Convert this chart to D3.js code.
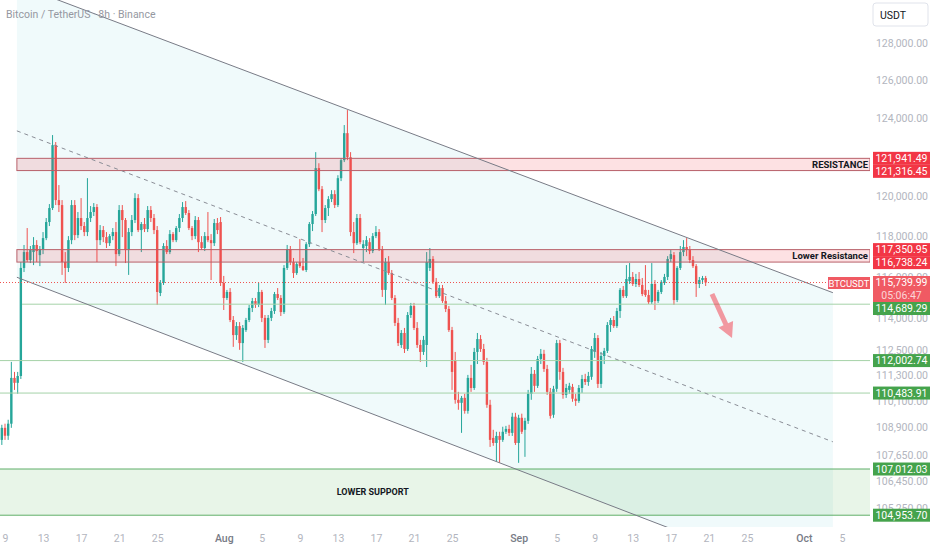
<!DOCTYPE html>
<html>
<head>
<meta charset="utf-8">
<script src="https://cdn.jsdelivr.net/npm/d3@7"></script>
<style>
  body { margin: 0; background: #fff; }
  svg { display: block; font-family: Roboto, "Noto Sans", sans-serif; }
</style>
</head>
<body>
<div id="chart"></div>
<script>
// 8h BTCUSDT candles, first one opens Jul 8 16:00 UTC
var candleStart = "2025-07-08T16:00:00Z";
var candleHours = 8;
// [open, high, low, close]
var ohlc = [
  [108330,109020,108100,108880],[108880,109070,108330,108520],[108520,109250,108330,109070],[109070,111940,108880,111190],
  [111190,111470,110630,110960],[110960,111470,110450,111280],[111280,116740,111140,116450],[116450,117580,116250,117230],
  [117230,118420,116740,116840],[116840,117530,116690,117330],[117230,117970,116590,117580],[117580,117820,116740,117280],
  [117080,117530,116540,117380],[117380,118220,117130,117920],[117920,118920,117820,118720],[118720,119620,118520,119420],
  [119420,123140,119320,122620],[122620,122780,119570,119820],[119820,120580,119220,119570],[119570,119820,116110,116740],
  [116740,117230,115720,116450],[116450,118020,116250,117820],[117820,119820,117620,119570],[119570,119820,117820,118070],
  [118070,119220,117920,118920],[118920,119920,118320,118520],[118520,118720,118020,118220],[118220,120930,118020,118920],
  [118920,119520,118720,119220],[119220,119670,119020,119470],[119470,119620,116740,117820],[117820,118570,117580,118320],
  [118320,118520,117720,117970],[117970,118220,117430,117670],[117670,118120,117530,118020],[118020,118420,117820,118220],
  [118220,118720,116540,117130],[117130,119570,117030,119320],[119320,119570,117970,118820],[118820,118920,116690,117330],
  [117330,118420,116110,118220],[118220,119070,118020,118820],[118820,120170,118670,119920],[119920,120120,118220,118320],
  [118320,118720,117230,118620],[118620,118920,118220,118370],[118370,119520,118220,119320],[119320,119520,118720,118920],
  [118920,119120,118120,118320],[118320,118520,114650,115280],[115230,115860,115080,115720],[115720,117670,115620,117530],
  [117530,117820,117130,117230],[117230,118320,117130,118120],[118120,118220,117720,117820],[117820,118520,117720,118420],
  [118420,119120,118220,118920],[118920,119720,118720,119470],[119470,119770,119070,119170],[119170,119320,118320,118420],
  [118420,118520,117820,118020],[118020,119020,117870,118820],[118820,118970,117230,117720],[117720,118020,117330,117430],
  [117430,118220,117280,118020],[118020,119220,117720,117820],[117820,118120,115860,117670],[117670,118870,117530,118670],
  [118670,118920,118120,118320],[118720,118970,115570,115720],[115720,116060,114410,114990],[114990,115380,114890,115280],
  [115280,115470,113830,113930],[113930,114120,112650,113210],[113210,113830,112980,113640],[113640,113830,112510,112830],
  [112830,113690,111940,113550],[113450,114030,113360,113930],[113930,114650,113830,114510],[114510,114990,114310,114840],
  [114840,114990,114510,114650],[114650,115720,114550,115280],[115280,115380,113830,114030],[114030,114170,112600,112980],
  [112980,114170,112830,114030],[114030,114510,113880,114360],[114360,115280,114220,115180],[115180,115470,114890,114990],
  [114990,115130,114120,114310],[114310,116590,114220,116450],[116450,117580,116350,117380],[117380,117530,116590,116740],
  [116740,116940,115960,116200],[116200,116740,116110,116640],[116740,117870,116450,116540],[116540,116940,116300,116350],
  [116350,117720,116250,117620],[117620,118720,117480,118620],[118620,119270,118270,119120],[119120,122260,119020,121440],
  [121440,121690,120270,120370],[120370,120530,118220,118820],[118820,119570,118670,119420],[119420,120020,119020,119870],
  [119870,120320,119720,120120],[120120,120320,119420,119570],[119570,121080,119470,120930],[120930,121950,120780,121850],
  [121850,123660,121750,123240],[123240,124440,121850,122000],[122000,122260,118020,118220],[118220,118720,117180,117670],
  [117670,119120,117580,118920],[118920,119120,117620,117720],[117430,117820,116740,117620],[117530,118020,117230,117820],
  [117720,117920,117130,117280],[117280,118170,117180,118020],[118020,118520,117920,118220],[118220,118370,117280,117380],
  [117380,117530,115040,115380],[115380,116940,114650,116740],[116740,117030,116110,116200],[116200,116350,114890,114990],
  [114990,115130,113640,113790],[113790,114030,112690,112830],[112740,113450,112600,113310],[113310,113550,112360,112550],
  [112550,114310,112460,114170],[114170,114750,114030,114600],[114600,114750,113450,113550],[113550,113830,112600,112740],
  [112740,112980,111940,112410],[112410,113170,112270,112980],[112740,117230,111700,116740],[116450,117430,116300,116890],
  [116890,117030,115670,115770],[115770,115960,114990,115080],[115080,115620,114990,115470],[115470,115620,114750,114840],
  [114840,115080,114310,114460],[114460,114600,113360,113450],[113450,113600,110630,111470],[112030,112410,109990,110170],
  [110170,110540,109710,110030],[110030,110350,108650,110260],[110260,110450,109530,109660],[109660,111330,109530,111190],
  [111190,111800,110540,110720],[110720,112600,110630,112410],[112410,113310,111840,113020],[113020,113210,112410,112550],
  [112550,112790,111800,111940],[111940,112130,109800,109940],[109940,110170,108010,108330],[108420,108790,108060,108190],
  [108190,108700,107340,108510],[108510,108700,107290,108330],[108330,108930,108240,108700],[108700,108970,108600,108830],
  [108830,109020,108510,108650],[108650,109570,108510,109390],[109390,109570,108100,108190],[108190,109480,107290,109340],
  [109340,109530,108600,108700],[108790,109340,107560,109200],[109200,110630,109060,110450],[110450,111700,110170,111380],
  [111380,111560,110540,110820],[110820,112220,110720,112080],[112080,112550,111840,112320],[112320,112510,111470,111610],
  [111610,111800,110400,110540],[110540,110720,109300,109430],[109480,110820,109340,110680],[110680,112980,110540,112830],
  [112830,112980,111100,111470],[111470,111660,110220,110400],[110400,110910,110260,110720],[110630,110960,110450,110820],
  [110770,110910,110080,110220],[110220,110450,109890,110120],[110120,110860,110030,110720],[110720,111330,110490,111140],
  [111140,111380,110860,111000],[111000,111470,110820,111280],[111240,112690,111100,112550],[112410,113310,112130,113070],
  [113070,113210,110720,110910],[110910,112410,110720,112220],[112220,112600,111840,112460],[112460,113830,112360,113690],
  [113690,114030,113360,113930],[113930,114120,113550,113640],[113640,114510,113550,114360],[114360,115470,114030,115380],
  [115380,115570,114990,115080],[115080,116590,114990,115910],[115810,116690,115670,116010],[116010,116250,115570,115670],
  [115670,116160,115520,115910],[115910,116250,115520,115620],[115620,115960,115080,115180],[115380,116590,115040,115130],
  [115130,115380,114700,114790],[114790,116690,114700,115670],[115670,115860,114410,114840],[114840,115380,114750,115280],
  [115280,115860,115180,115770],[115720,116160,115620,116010],[116010,117030,115860,116890],[116890,117330,116740,117130],
  [117080,117230,114650,114890],[114890,116540,114790,116450],[116450,117530,116350,117230],[117230,117820,117030,117480],
  [117480,117920,117030,117330],[117330,117530,116690,116840],[116840,117030,116450,116540],[116540,116640,115040,115670],
  [115670,116010,115470,115860],[115860,116060,115670,115960],[115960,116060,115570,115739.99]
];

// 122,000 sits fully behind the resistance labels, so it is left out
var priceTicks = [128000, 126000, 124000, 120000, 118000, 116000, 114000,
  112500, 111300, 110100, 108900, 107650, 106450, 105250];
var dateTicks = ["2025-07-09", "2025-07-13", "2025-07-17", "2025-07-21", "2025-07-25",
  "2025-08-01", "2025-08-05", "2025-08-09", "2025-08-13", "2025-08-17", "2025-08-21", "2025-08-25",
  "2025-09-01", "2025-09-05", "2025-09-09", "2025-09-13", "2025-09-17", "2025-09-21", "2025-09-25",
  "2025-10-01", "2025-10-05"];

var resistance = [121316.45, 121941.49];
var lowerResistance = [116738.24, 117350.95];
var lowerSupport = [104953.70, 107012.03];
var supportLines = [
  { price: 114689.29, from: "2025-07-10T19:00:00Z" },
  { price: 112002.74, from: "2025-07-08T00:00:00Z" },
  { price: 110483.91, from: "2025-07-08T00:00:00Z" }
];
var lastPrice = 115739.99;
var countdown = "05:06:47";

// descending parallel channel (prices at its two ends)
var channelDates = ["2025-07-10T06:00:00Z", "2025-10-04T01:00:00Z"];
var channelUpper = [131190, 115245];
var channelLower = [115994, 101665];

var arrowFrom = ["2025-09-21T08:00:00Z", 115183];
var arrowTo = ["2025-09-23T10:30:00Z", 113073];
var supportNoteDate = "2025-08-16T16:00:00Z";

var width = 932, height = 550;
var plotRight = 870, plotBottom = 527;

var svg = d3.select("#chart").append("svg")
  .attr("width", width)
  .attr("height", height);

var x = d3.scaleUtc()
  .domain([new Date("2025-07-09T00:00:00Z"), new Date("2025-10-05T00:00:00Z")])
  .range([5, 842]);

var y = d3.scaleLog()
  .domain([105250, 128000])
  .range([508.5, 43]);

svg.append("clipPath").attr("id", "plot")
  .append("rect").attr("width", plotRight).attr("height", plotBottom);

var plot = svg.append("g").attr("clip-path", "url(#plot)");

var cx0 = x(new Date(channelDates[0])), cx1 = x(new Date(channelDates[1]));
var up0 = y(channelUpper[0]), up1 = y(channelUpper[1]);
var lo0 = y(channelLower[0]), lo1 = y(channelLower[1]);

// channel fill
plot.append("path")
  .attr("d", "M" + cx0 + "," + up0 + "L" + cx1 + "," + up1 + "L" + cx1 + "," + lo1 + "L" + cx0 + "," + lo0 + "Z")
  .attr("fill", "rgba(0,172,193,0.06)");

// lower support zone
plot.append("rect")
  .attr("x", 0).attr("width", plotRight)
  .attr("y", y(lowerSupport[1]))
  .attr("height", y(lowerSupport[0]) - y(lowerSupport[1]))
  .attr("fill", "rgba(76,175,80,0.13)");
lowerSupport.forEach(function(p) {
  plot.append("line")
    .attr("x1", 0).attr("x2", plotRight)
    .attr("y1", y(p)).attr("y2", y(p))
    .attr("stroke", "#5fae68").attr("stroke-width", 1);
});

// candles
var times = ohlc.map(function(d, i) {
  return d3.utcHour.offset(new Date(candleStart), i * candleHours);
});
var candle = plot.append("g").selectAll("g")
  .data(ohlc)
  .enter().append("g");

candle.append("line")
  .attr("x1", function(d, i) { return x(times[i]); })
  .attr("x2", function(d, i) { return x(times[i]); })
  .attr("y1", function(d) { return y(d[1]); })
  .attr("y2", function(d) { return y(d[2]); })
  .attr("stroke", function(d) { return d[3] >= d[0] ? "#26a69a" : "#ef5350"; })
  .attr("stroke-width", 1);

candle.append("rect")
  .attr("x", function(d, i) { return x(times[i]) - 1.2; })
  .attr("width", 2.4)
  .attr("y", function(d) { return y(Math.max(d[0], d[3])); })
  .attr("height", function(d) { return Math.max(1, Math.abs(y(d[0]) - y(d[3]))); })
  .attr("fill", function(d) { return d[3] >= d[0] ? "#26a69a" : "#ef5350"; });

// resistance bands
var bandStart = x(new Date(channelDates[0]));
[resistance, lowerResistance].forEach(function(b) {
  plot.append("rect")
    .attr("x", bandStart).attr("width", plotRight - bandStart)
    .attr("y", y(b[1]))
    .attr("height", y(b[0]) - y(b[1]))
    .attr("fill", "rgba(242,54,69,0.15)")
    .attr("stroke", "#b8606a")
    .attr("stroke-width", 1);
});

// support lines
supportLines.forEach(function(s) {
  plot.append("line")
    .attr("x1", Math.max(0, x(new Date(s.from)))).attr("x2", plotRight)
    .attr("y1", y(s.price)).attr("y2", y(s.price))
    .attr("stroke", "#a5d2a8").attr("stroke-width", 1);
});

// channel lines
plot.append("line")
  .attr("x1", cx0).attr("y1", up0).attr("x2", cx1).attr("y2", up1)
  .attr("stroke", "#787b86").attr("stroke-width", 1);
plot.append("line")
  .attr("x1", cx0).attr("y1", lo0).attr("x2", cx1).attr("y2", lo1)
  .attr("stroke", "#787b86").attr("stroke-width", 1);
plot.append("line")
  .attr("x1", cx0).attr("y1", (up0 + lo0) / 2).attr("x2", cx1).attr("y2", (up1 + lo1) / 2)
  .attr("stroke", "#8a8d96").attr("stroke-width", 1)
  .attr("stroke-dasharray", "4,4");

// last price line
plot.append("line")
  .attr("x1", 0).attr("x2", plotRight)
  .attr("y1", y(lastPrice)).attr("y2", y(lastPrice))
  .attr("stroke", "#ef5350").attr("stroke-width", 1)
  .attr("stroke-dasharray", "1,2");

// arrow
var a0 = [x(new Date(arrowFrom[0])), y(arrowFrom[1])];
var a1 = [x(new Date(arrowTo[0])), y(arrowTo[1])];
var len = Math.hypot(a1[0] - a0[0], a1[1] - a0[1]);
var ux = (a1[0] - a0[0]) / len, uy = (a1[1] - a0[1]) / len;
var nx = -uy, ny = ux;
var bx = a1[0] - ux * 15, by = a1[1] - uy * 15;
var arrowPts = [
  [a0[0] + nx * 2.5, a0[1] + ny * 2.5], [bx + nx * 2.5, by + ny * 2.5], [bx + nx * 8, by + ny * 8],
  a1, [bx - nx * 8, by - ny * 8], [bx - nx * 2.5, by - ny * 2.5], [a0[0] - nx * 2.5, a0[1] - ny * 2.5]
];
plot.append("path")
  .attr("d", "M" + arrowPts.join("L") + "Z")
  .attr("fill", "rgba(242,54,69,0.5)");

// drawing texts
function noteText(txt, tx, ty, anchor, size) {
  svg.append("text")
    .attr("x", tx).attr("y", ty)
    .attr("text-anchor", anchor)
    .attr("dominant-baseline", "central")
    .attr("font-size", size)
    .attr("font-weight", "bold")
    .attr("fill", "#131722")
    .text(txt);
}
noteText("RESISTANCE", 868, (y(resistance[0]) + y(resistance[1])) / 2, "end", 9.5);
noteText("Lower Resistance", 868, (y(lowerResistance[0]) + y(lowerResistance[1])) / 2, "end", 9.5);
noteText("LOWER SUPPORT", x(new Date(supportNoteDate)), (y(lowerSupport[0]) + y(lowerSupport[1])) / 2, "middle", 9);

// title
svg.append("text")
  .attr("x", 6).attr("y", 18)
  .attr("font-size", 10.5)
  .attr("fill", "#9598a1")
  .text("Bitcoin / TetherUS · 8h · Binance");

// axes
var fmtPrice = d3.format(",.2f");
var yAxis = svg.append("g")
  .attr("transform", "translate(928,0)")
  .call(d3.axisLeft(y).tickValues(priceTicks).tickFormat(fmtPrice).tickSize(0).tickPadding(0));
yAxis.select(".domain").remove();
yAxis.selectAll("text").attr("fill", "#b2b5be").attr("font-size", 10.5)
  .attr("font-family", "Roboto, sans-serif");

var xAxis = svg.append("g")
  .attr("transform", "translate(0," + plotBottom + ")")
  .call(d3.axisBottom(x)
    .tickValues(dateTicks.map(function(d) { return new Date(d + "T00:00:00Z"); }))
    .tickFormat(function(d) { return d.getUTCDate() === 1 ? d3.utcFormat("%b")(d) : d.getUTCDate(); })
    .tickSize(0).tickPadding(8));
xAxis.select(".domain").remove();
xAxis.selectAll("text")
  .attr("font-size", 10.5)
  .attr("font-family", "Roboto, sans-serif")
  .attr("fill", function(d) { return d.getUTCDate() === 1 ? "#787b86" : "#b2b5be"; })
  .attr("font-weight", function(d) { return d.getUTCDate() === 1 ? "500" : "normal"; });

// currency box
svg.append("rect")
  .attr("x", 873).attr("y", 3).attr("width", 55).attr("height", 23).attr("rx", 3)
  .attr("fill", "#fff").attr("stroke", "#e0e3eb");
svg.append("text")
  .attr("x", 880).attr("y", 18.5)
  .attr("font-size", 10.5).attr("fill", "#131722")
  .text("USDT");

// price labels on the scale
var labels = [
  { price: resistance[1], color: "#f23645" },
  { price: resistance[0], color: "#f23645" },
  { price: lowerResistance[1], color: "#f23645" },
  { price: lowerResistance[0], color: "#f23645" },
  { price: lastPrice, color: "#f05a63", extra: countdown },
  { price: supportLines[0].price, color: "#45a34c" },
  { price: supportLines[1].price, color: "#45a34c" },
  { price: supportLines[2].price, color: "#45a34c" },
  { price: lowerSupport[1], color: "#45a34c" },
  { price: lowerSupport[0], color: "#45a34c" }
];
var prevBottom = -100;
labels.forEach(function(l) {
  var h = l.extra ? 26 : 13;
  var top = Math.max(y(l.price) - 6.5, prevBottom);
  prevBottom = top + h;
  svg.append("rect")
    .attr("x", 873).attr("y", top).attr("width", 57).attr("height", h)
    .attr("fill", l.color);
  svg.append("text")
    .attr("x", 901.5).attr("y", top + 6.5)
    .attr("text-anchor", "middle").attr("dominant-baseline", "central")
    .attr("font-size", 10.5).attr("fill", "#fff")
    .text(fmtPrice(l.price));
  if (l.extra) {
    svg.append("text")
      .attr("x", 901.5).attr("y", top + 19)
      .attr("text-anchor", "middle").attr("dominant-baseline", "central")
      .attr("font-size", 10.5).attr("fill", "rgba(255,255,255,0.75)")
      .text(l.extra);
  }
});

// symbol tag next to the last price
svg.append("rect")
  .attr("x", 828).attr("y", y(lastPrice) - 5.5).attr("width", 42).attr("height", 12)
  .attr("fill", "#f05a63");
svg.append("text")
  .attr("x", 849).attr("y", y(lastPrice) + 0.5)
  .attr("text-anchor", "middle").attr("dominant-baseline", "central")
  .attr("font-size", 9.5).attr("fill", "#fff")
  .text("BTCUSDT");
</script>
</body>
</html>
